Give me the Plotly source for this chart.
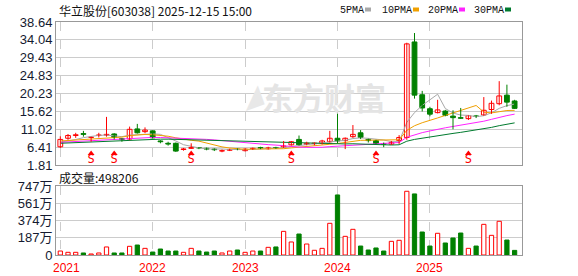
import plotly.graph_objects as go

# ---------------- data (monthly, 2021-01 .. 2025-12) ----------------
months = [f"{y}-{m:02d}" for y in range(2021, 2026) for m in range(1, 13)]

opens = [6.5, 8.7, 9.4, 9.9, 8.9, 9.4, 9.5, 9.8, 8.6, 8.5, 11.1, 10.4,
         10.6, 8.0, 7.4, 7.4, 5.8, 6.1, 6.3, 6.1, 5.9, 5.4, 5.6, 5.9,
         5.5, 5.9, 6.3, 6.0, 6.3, 6.4, 7.0, 8.4, 7.1, 7.3, 7.4, 7.8,
         8.7, 8.1, 9.1, 10.1, 8.4, 8.1, 7.3, 7.2, 8.1, 8.9, 33.5, 19.9,
         16.3, 15.3, 15.7, 14.4, 14.0, 13.75, 14.45, 14.7, 16.1, 17.6, 19.8, 18.3]
highs = [9.2, 9.8, 10.1, 10.6, 9.1, 10.1, 14.2, 10.0, 8.7, 11.7, 12.4, 11.5,
         10.7, 8.2, 7.8, 7.6, 6.2, 7.4, 6.4, 6.3, 6.1, 5.8, 6.0, 6.1,
         6.1, 6.3, 6.5, 6.5, 6.5, 8.0, 8.0, 9.4, 7.8, 7.6, 8.3, 10.6,
         15.0, 8.9, 12.1, 10.8, 8.6, 8.3, 7.6, 8.0, 9.5, 33.3, 35.8, 20.9,
         16.8, 18.6, 16.0, 15.9, 16.5, 14.6, 14.7, 19.3, 18.4, 23.4, 22.5, 18.6]
lows = [6.2, 8.3, 8.8, 9.1, 7.8, 8.9, 9.1, 8.4, 7.8, 8.2, 9.9, 10.0,
        8.7, 7.4, 6.8, 5.2, 5.5, 6.0, 5.9, 5.6, 5.4, 5.1, 5.4, 5.6,
        5.3, 5.7, 5.9, 5.8, 6.0, 6.2, 6.8, 6.8, 6.9, 6.9, 7.1, 7.6,
        7.4, 5.9, 8.8, 8.5, 7.6, 7.2, 6.4, 7.0, 7.2, 8.3, 18.9, 15.6,
        14.35, 15.1, 14.35, 11.0, 13.7, 13.4, 13.9, 14.5, 15.0, 17.2, 16.8, 16.3]
closes = [8.4, 9.4, 9.6, 9.7, 9.0, 9.55, 9.7, 8.9, 8.4, 11.0, 10.1, 10.8,
          8.8, 7.8, 7.2, 5.4, 5.95, 6.3, 6.2, 5.9, 5.75, 5.5, 5.8, 5.8,
          5.9, 6.1, 6.1, 6.2, 6.2, 6.7, 7.8, 7.0, 7.4, 7.45, 8.0, 8.7,
          8.0, 8.7, 9.7, 8.9, 8.1, 7.3, 7.2, 7.6, 8.9, 33.0, 19.8, 16.5,
          14.9, 16.0, 14.6, 14.0, 13.85, 14.5, 14.3, 15.9, 17.7, 19.6, 18.0, 16.4]
# monthly volume in 万 (10k)
volumes = [43, 29, 29, 22, 11, 22, 87, 22, 22, 94, 108, 72,
           32, 65, 43, 43, 29, 72, 43, 32, 43, 22, 43, 54,
           29, 43, 43, 83, 87, 256, 141, 227, 119, 51, 72, 343,
           650, 202, 278, 97, 54, 76, 43, 148, 159, 690, 661, 249,
           97, 235, 130, 184, 238, 72, 97, 332, 213, 365, 162, 50]
# closes of the 29 months before 2021-01 (seed for moving averages)
prior_closes = [6.5, 6.7, 6.9, 7.2, 7.0, 6.8, 7.1, 6.9, 6.8, 7.2,
                7.0, 7.2, 7.5, 7.3, 7.1, 7.4, 7.6, 7.2, 7.3, 7.4,
                8.0, 8.6, 8.4, 8.3, 8.3, 7.9, 7.6, 7.3, 7.2]
signal_idx = [4, 7, 17, 30, 41, 53]
year_labels = ["2021", "2022", "2023", "2024", "2025"]
year_idx = [0, 12, 24, 36, 48]
price_ticks = [1.81, 6.41, 11.02, 15.62, 20.23, 24.83, 29.43, 34.04, 38.64]
vol_ticks = [0, 187, 374, 561, 747]
vol_tick_text = ["0", "187万", "374万", "561万", "747万"]
ma_periods = [5, 10, 20, 30]
ma_names = ["5PMA", "10PMA", "20PMA", "30PMA"]
ma_colors = ["#a8a8a8", "#f0a000", "#ff22ff", "#007a2e"]

RED = "#ff0000"
GREEN = "#008000"

# ---------------- geometry helpers ----------------
W, H = 578, 276
L, R, T, B = 56, 56, 22, 21
PW, PH = W - L - R, H - T - B


def px2x(px):
    return (px - L) / PW


def py2y(py):
    return (H - B - py) / PH


n = len(months)
xs = list(range(n))
up = [c >= o for o, c in zip(opens, closes)]

fig = go.Figure()

# moving averages
all_c = prior_closes + closes
off = len(prior_closes)
for p, name, col in zip(ma_periods, ma_names, ma_colors):
    vals = [sum(all_c[off + i - p + 1: off + i + 1]) / p for i in range(n)]
    fig.add_trace(go.Scatter(x=xs, y=vals, mode="lines", line=dict(color=col, width=1),
                             hoverinfo="skip", showlegend=False))

# wicks
for is_up, col in [(True, RED), (False, GREEN)]:
    wx, wy = [], []
    for i in range(n):
        if up[i] == is_up:
            wx += [i, i, None]
            wy += [lows[i], highs[i], None]
    fig.add_trace(go.Scatter(x=wx, y=wy, mode="lines", line=dict(color=col, width=1),
                             hoverinfo="skip", showlegend=False))

# bodies
for is_up, col, fill in [(True, RED, "#ffffff"), (False, GREEN, GREEN)]:
    bx, bb, bh = [], [], []
    for i in range(n):
        if up[i] == is_up:
            bx.append(i)
            bb.append(min(opens[i], closes[i]))
            bh.append(max(abs(closes[i] - opens[i]), 0.08))
    fig.add_trace(go.Bar(x=bx, y=bh, base=bb, width=0.62,
                         marker=dict(color=fill, line=dict(color=col, width=1)),
                         hoverinfo="skip", showlegend=False))

# volume bars
for is_up, col, fill in [(True, RED, "#ffffff"), (False, GREEN, GREEN)]:
    vx = [i for i in range(n) if up[i] == is_up]
    vy = [volumes[i] for i in vx]
    fig.add_trace(go.Bar(x=vx, y=vy, width=0.55, xaxis="x2", yaxis="y2",
                         marker=dict(color=fill, line=dict(color=col, width=1)),
                         hoverinfo="skip", showlegend=False))

# S signals
fig.add_trace(go.Scatter(x=signal_idx, y=[4.75] * len(signal_idx), mode="markers",
                         marker=dict(symbol="triangle-up", size=6, color=RED),
                         hoverinfo="skip", showlegend=False))
fig.add_trace(go.Scatter(x=signal_idx, y=[3.05] * len(signal_idx), mode="text",
                         text=["S"] * len(signal_idx),
                         textfont=dict(family="DejaVu Sans Mono", size=12, color=RED),
                         hoverinfo="skip", showlegend=False))

xr = [-0.56, n - 0.04]
axis_common = dict(showline=True, mirror=True, linecolor="#999999", linewidth=1,
                   zeroline=False, fixedrange=True)
fig.update_layout(
    width=W, height=H, margin=dict(l=L, r=R, t=T, b=B),
    paper_bgcolor="white", plot_bgcolor="white", barmode="overlay",
    xaxis=dict(domain=[0, 1], range=xr, anchor="y", tickvals=year_idx, showticklabels=False,
               showgrid=True, gridcolor="#cccccc", griddash="dash", ticks="", **axis_common),
    yaxis=dict(domain=[1 - 143 / PH, 1], range=[price_ticks[0], price_ticks[-1]],
               tickvals=price_ticks, ticktext=[f"{v:.2f}" for v in price_ticks],
               showgrid=True, gridcolor="#cccccc", ticks="",
               tickfont=dict(family="Liberation Sans", size=13, color="#141a30"), **axis_common),
    xaxis2=dict(domain=[0, 1], range=xr, anchor="y2", tickvals=year_idx, showticklabels=False,
                showgrid=True, gridcolor="#cccccc", griddash="dash", ticks="", **axis_common),
    yaxis2=dict(domain=[0, 69 / PH], range=[0, vol_ticks[-1]], tickvals=vol_ticks,
                ticktext=vol_tick_text, showgrid=True, gridcolor="#cccccc", ticks="",
                tickfont=dict(family="Liberation Sans, Noto Sans CJK SC", size=13, color="#141a30"),
                **axis_common),
)

ann = []
# title
ann.append(dict(x=px2x(57), y=py2y(10), xref="paper", yref="paper", xanchor="left", yanchor="middle",
                text="华立股份[603038] 2025-12-15 15:00", showarrow=False,
                font=dict(family="Noto Sans CJK SC", size=12, color="#111111")))
# volume title
ann.append(dict(x=px2x(57), y=py2y(177), xref="paper", yref="paper", xanchor="left", yanchor="middle",
                text="成交量:498206", showarrow=False,
                font=dict(family="Noto Sans CJK SC", size=12, color="#111111")))
# watermark
ann.append(dict(x=px2x(324), y=py2y(96), xref="paper", yref="paper", xanchor="center", yanchor="middle",
                text="<b>东方财富</b>", showarrow=False,
                font=dict(family="Noto Sans CJK SC", size=31, color="#e4e4e4")))
ann.append(dict(x=px2x(251), y=py2y(96), xref="paper", yref="paper", xanchor="center", yanchor="middle",
                text="<b>◢</b>", showarrow=False, textangle=-20,
                font=dict(family="DejaVu Sans", size=26, color="#e8e8e8")))
# MA legend
leg_text_x = [338, 380, 426, 472]
leg_sq_x = [365, 413, 459, 505]
shapes = []
for name, col, tx, sx in zip(ma_names, ma_colors, leg_text_x, leg_sq_x):
    ann.append(dict(x=px2x(tx), y=py2y(10), xref="paper", yref="paper", xanchor="left", yanchor="middle",
                    text=name, showarrow=False,
                    font=dict(family="Liberation Mono", size=10, color="#111111")))
    shapes.append(dict(type="rect", xref="paper", yref="paper", x0=px2x(sx), x1=px2x(sx + 6),
                       y0=py2y(11.5), y1=py2y(7.5), fillcolor=col, line=dict(width=0)))
# year labels
for lab, xi in zip(year_labels, year_idx):
    ann.append(dict(x=xi, y=py2y(268), xref="x2", yref="paper", xanchor="center", yanchor="middle",
                    text=lab, showarrow=False, xshift=6 if xi == 0 else 0,
                    font=dict(family="Liberation Sans", size=12, color=RED)))
fig.update_layout(annotations=ann, shapes=shapes)

fig.write_html("out.html")
